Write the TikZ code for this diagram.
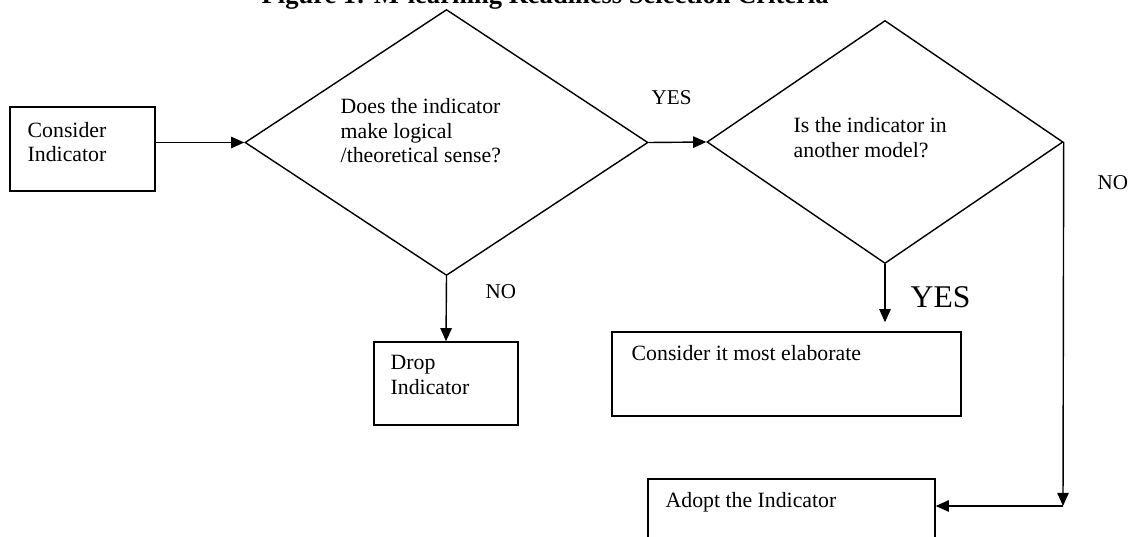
\documentclass[tikz,border=0pt]{standalone}
\usepackage{fontspec}
\setmainfont{Liberation Serif}
\usetikzlibrary{arrows.meta,shapes.geometric}
\begin{document}
\begin{tikzpicture}[x=0.02cm,y=-0.02cm,
  line width=0.8pt,
  box/.style={draw, rectangle, inner sep=0pt},
  dec/.style={draw, diamond, inner sep=0pt, aspect=1},
  txt/.style={inner sep=0pt, align=left, font=\fontsize{12.4pt}{14.2pt}\selectfont, anchor=base west},
  lbl/.style={inner sep=0pt, font=\fontsize{12pt}{14pt}\selectfont, anchor=base west},
  arr/.style={-{Triangle[length=7.5pt,width=6.5pt]}}]
\clip (0,0) rectangle (1130,537);
\useasboundingbox (0,0) rectangle (1130,537);
% title (cut off at the top)
\node[lbl, font=\bfseries\fontsize{15.1pt}{17pt}\selectfont] (title) at (261,4) {Figure 1: M-learning Readiness Selection Criteria};
% boxes
\node[box, minimum width=145*0.02cm, minimum height=84*0.02cm] (ci) at (82.5,149) {};
\node[box, minimum width=144*0.02cm, minimum height=83*0.02cm] (drop) at (446,383.5) {};
\node[box, minimum width=349*0.02cm, minimum height=84*0.02cm] (elab) at (786.5,374) {};
\node[box, minimum width=287*0.02cm, minimum height=91*0.02cm] (adopt) at (791.5,524.5) {};
% decisions
\node[dec, minimum width=403*0.02cm, minimum height=266*0.02cm] (d1) at (446.5,142.5) {};
\node[dec, minimum width=356*0.02cm, minimum height=243*0.02cm] (d2) at (885,142) {};
% texts (base anchor = baseline of the last line)
\node[txt] (cit) at (27,162) {Consider\\Indicator};
\node[txt] (d1t) at (340,163) {Does the indicator\\make logical\\/theoretical sense?};
\node[txt] (d2t) at (793,157) {Is the indicator in\\another model?};
\node[txt] (dropt) at (390,394) {Drop\\Indicator};
\node[txt] (elabt) at (631,360) {Consider it most elaborate};
\node[txt] (adoptt) at (665,507) {Adopt the Indicator};
% labels
\node[lbl] (yes1) at (651,105) {YES};
\node[lbl] (no1) at (485,298) {NO};
\node[lbl, font=\fontsize{18pt}{20pt}\selectfont] (yes2) at (910,307) {YES};
\node[lbl] (no2) at (1097,190) {NO};
% connectors
\draw[arr] (ci.east |- d1.west) -- (d1.west);
\draw[arr] (d1.east) -- (d2.west);
\draw[arr] (d1.south) -- (drop.north);
\draw[arr, shorten >=9*0.02cm] (d2.south) -- (d2.south |- elab.north);
\coordinate (corner) at (1063,506);
\draw[arr] (d2.east) -- (corner);
\draw[arr] (corner) -- (corner -| adopt.east);
\end{tikzpicture}
\end{document}
